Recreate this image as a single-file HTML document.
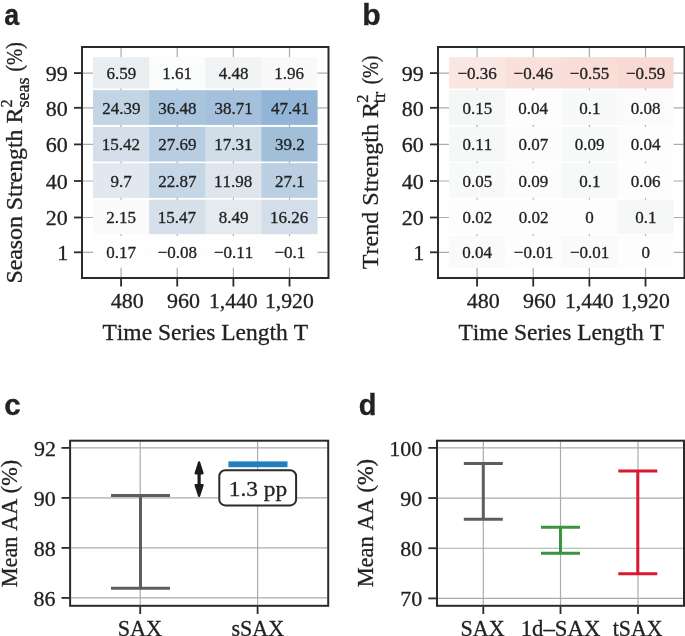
<!DOCTYPE html>
<html><head><meta charset="utf-8"><style>
html,body{margin:0;padding:0;background:#fff;}
svg{display:block;font-kerning:none;will-change:transform;}
text{stroke:#222;stroke-width:0.3px;}
</style></head><body>
<svg width="685" height="636" viewBox="0 0 685 636">
<rect x="0" y="0" width="685" height="636" fill="#fff"/>
<line x1="121.08" y1="48" x2="121.08" y2="277" stroke="#a9acac" stroke-width="1.2" stroke-linecap="butt"/>
<line x1="177.23" y1="48" x2="177.23" y2="277" stroke="#a9acac" stroke-width="1.2" stroke-linecap="butt"/>
<line x1="233.38" y1="48" x2="233.38" y2="277" stroke="#a9acac" stroke-width="1.2" stroke-linecap="butt"/>
<line x1="289.52" y1="48" x2="289.52" y2="277" stroke="#a9acac" stroke-width="1.2" stroke-linecap="butt"/>
<line x1="83" y1="73.1" x2="327.5" y2="73.1" stroke="#a9acac" stroke-width="1.2" stroke-linecap="butt"/>
<line x1="83" y1="107.8" x2="327.5" y2="107.8" stroke="#a9acac" stroke-width="1.2" stroke-linecap="butt"/>
<line x1="83" y1="144.4" x2="327.5" y2="144.4" stroke="#a9acac" stroke-width="1.2" stroke-linecap="butt"/>
<line x1="83" y1="181" x2="327.5" y2="181" stroke="#a9acac" stroke-width="1.2" stroke-linecap="butt"/>
<line x1="83" y1="217.5" x2="327.5" y2="217.5" stroke="#a9acac" stroke-width="1.2" stroke-linecap="butt"/>
<line x1="83" y1="252.3" x2="327.5" y2="252.3" stroke="#a9acac" stroke-width="1.2" stroke-linecap="butt"/>
<rect x="93" y="57.2" width="56.75" height="31.3" fill="#e9eef1"/>
<rect x="149.15" y="57.2" width="56.75" height="31.3" fill="#fbfcfc"/>
<rect x="205.3" y="57.2" width="56.75" height="31.3" fill="#f1f3f5"/>
<rect x="261.45" y="57.2" width="56.15" height="31.3" fill="#f9f9fa"/>
<rect x="93" y="90.2" width="56.75" height="34.7" fill="#c3d4e4"/>
<rect x="149.15" y="90.2" width="56.75" height="34.7" fill="#a9c4dd"/>
<rect x="205.3" y="90.2" width="56.75" height="34.7" fill="#a4c0dc"/>
<rect x="261.45" y="90.2" width="56.15" height="34.7" fill="#92b4d6"/>
<rect x="93" y="126.9" width="56.75" height="34.6" fill="#d5dfe9"/>
<rect x="149.15" y="126.9" width="56.75" height="34.6" fill="#b9cde2"/>
<rect x="205.3" y="126.9" width="56.75" height="34.6" fill="#d1dde8"/>
<rect x="261.45" y="126.9" width="56.15" height="34.6" fill="#a2bfda"/>
<rect x="93" y="163.2" width="56.75" height="34.7" fill="#e2e8ef"/>
<rect x="149.15" y="163.2" width="56.75" height="34.7" fill="#c5d6e6"/>
<rect x="205.3" y="163.2" width="56.75" height="34.7" fill="#dee5ed"/>
<rect x="261.45" y="163.2" width="56.15" height="34.7" fill="#bbcfe3"/>
<rect x="93" y="199.7" width="56.75" height="34.5" fill="#fafafa"/>
<rect x="149.15" y="199.7" width="56.75" height="34.5" fill="#d5e0ea"/>
<rect x="205.3" y="199.7" width="56.75" height="34.5" fill="#e5eaef"/>
<rect x="261.45" y="199.7" width="56.15" height="34.5" fill="#d3deea"/>
<rect x="93" y="236" width="56.75" height="31.7" fill="#fefefe"/>
<rect x="149.15" y="236" width="56.75" height="31.7" fill="#fefefe"/>
<rect x="205.3" y="236" width="56.75" height="31.7" fill="#fefefe"/>
<rect x="261.45" y="236" width="56.15" height="31.7" fill="#fefefe"/>
<text x="106.38" y="79" font-family='"Liberation Serif", serif' font-size="17" font-weight="400" fill="#222222">6.59</text>
<text x="162.31" y="79" font-family='"Liberation Serif", serif' font-size="17" font-weight="400" fill="#222222">1.61</text>
<text x="218.86" y="79" font-family='"Liberation Serif", serif' font-size="17" font-weight="400" fill="#222222">4.48</text>
<text x="274.36" y="79" font-family='"Liberation Serif", serif' font-size="17" font-weight="400" fill="#222222">1.96</text>
<text x="102.13" y="113.7" font-family='"Liberation Serif", serif' font-size="17" font-weight="400" fill="#222222">24.39</text>
<text x="158.22" y="113.7" font-family='"Liberation Serif", serif' font-size="17" font-weight="400" fill="#222222">36.48</text>
<text x="214.55" y="113.7" font-family='"Liberation Serif", serif' font-size="17" font-weight="400" fill="#222222">38.71</text>
<text x="270.94" y="113.7" font-family='"Liberation Serif", serif' font-size="17" font-weight="400" fill="#222222">47.41</text>
<text x="101.87" y="150.3" font-family='"Liberation Serif", serif' font-size="17" font-weight="400" fill="#222222">15.42</text>
<text x="158.28" y="150.3" font-family='"Liberation Serif", serif' font-size="17" font-weight="400" fill="#222222">27.69</text>
<text x="214.21" y="150.3" font-family='"Liberation Serif", serif' font-size="17" font-weight="400" fill="#222222">17.31</text>
<text x="274.91" y="150.3" font-family='"Liberation Serif", serif' font-size="17" font-weight="400" fill="#222222">39.2</text>
<text x="110.62" y="186.9" font-family='"Liberation Serif", serif' font-size="17" font-weight="400" fill="#222222">9.7</text>
<text x="158.17" y="186.9" font-family='"Liberation Serif", serif' font-size="17" font-weight="400" fill="#222222">22.87</text>
<text x="214.03" y="186.9" font-family='"Liberation Serif", serif' font-size="17" font-weight="400" fill="#222222">11.98</text>
<text x="274.99" y="186.9" font-family='"Liberation Serif", serif' font-size="17" font-weight="400" fill="#222222">27.1</text>
<text x="106.36" y="223.4" font-family='"Liberation Serif", serif' font-size="17" font-weight="400" fill="#222222">2.15</text>
<text x="157.8" y="223.4" font-family='"Liberation Serif", serif' font-size="17" font-weight="400" fill="#222222">15.47</text>
<text x="218.72" y="223.4" font-family='"Liberation Serif", serif' font-size="17" font-weight="400" fill="#222222">8.49</text>
<text x="270.11" y="223.4" font-family='"Liberation Serif", serif' font-size="17" font-weight="400" fill="#222222">16.26</text>
<text x="106.32" y="258.2" font-family='"Liberation Serif", serif' font-size="17" font-weight="400" fill="#222222">0.17</text>
<text x="157.66" y="258.2" font-family='"Liberation Serif", serif' font-size="17" font-weight="400" fill="#222222">−0.08</text>
<text x="213.99" y="258.2" font-family='"Liberation Serif", serif' font-size="17" font-weight="400" fill="#222222">−0.11</text>
<text x="274.39" y="258.2" font-family='"Liberation Serif", serif' font-size="17" font-weight="400" fill="#222222">−0.1</text>
<rect x="82" y="47" width="246.5" height="231" fill="none" stroke="#2a2a2a" stroke-width="2"/>
<line x1="74" y1="73.1" x2="81" y2="73.1" stroke="#2a2a2a" stroke-width="1.8" stroke-linecap="butt"/>
<line x1="74" y1="107.8" x2="81" y2="107.8" stroke="#2a2a2a" stroke-width="1.8" stroke-linecap="butt"/>
<line x1="74" y1="144.4" x2="81" y2="144.4" stroke="#2a2a2a" stroke-width="1.8" stroke-linecap="butt"/>
<line x1="74" y1="181" x2="81" y2="181" stroke="#2a2a2a" stroke-width="1.8" stroke-linecap="butt"/>
<line x1="74" y1="217.5" x2="81" y2="217.5" stroke="#2a2a2a" stroke-width="1.8" stroke-linecap="butt"/>
<line x1="74" y1="252.3" x2="81" y2="252.3" stroke="#2a2a2a" stroke-width="1.8" stroke-linecap="butt"/>
<line x1="121.08" y1="279" x2="121.08" y2="286.5" stroke="#2a2a2a" stroke-width="1.8" stroke-linecap="butt"/>
<line x1="177.23" y1="279" x2="177.23" y2="286.5" stroke="#2a2a2a" stroke-width="1.8" stroke-linecap="butt"/>
<line x1="233.38" y1="279" x2="233.38" y2="286.5" stroke="#2a2a2a" stroke-width="1.8" stroke-linecap="butt"/>
<line x1="289.52" y1="279" x2="289.52" y2="286.5" stroke="#2a2a2a" stroke-width="1.8" stroke-linecap="butt"/>
<text x="45.8" y="80.81" font-family='"Liberation Serif", serif' font-size="22" font-weight="400" fill="#222222">99</text>
<text x="45.74" y="115.51" font-family='"Liberation Serif", serif' font-size="22" font-weight="400" fill="#222222">80</text>
<text x="45.74" y="152.11" font-family='"Liberation Serif", serif' font-size="22" font-weight="400" fill="#222222">60</text>
<text x="45.74" y="188.71" font-family='"Liberation Serif", serif' font-size="22" font-weight="400" fill="#222222">40</text>
<text x="45.74" y="225.21" font-family='"Liberation Serif", serif' font-size="22" font-weight="400" fill="#222222">20</text>
<text x="57.22" y="260.01" font-family='"Liberation Serif", serif' font-size="22" font-weight="400" fill="#222222">1</text>
<text x="110.77" y="307.6" font-family='"Liberation Serif", serif' font-size="22" font-weight="400" fill="#222222">480</text>
<text x="166.89" y="307.6" font-family='"Liberation Serif", serif' font-size="22" font-weight="400" fill="#222222">960</text>
<text x="208.89" y="307.6" font-family='"Liberation Serif", serif' font-size="22" font-weight="400" fill="#222222" textLength="48.83" lengthAdjust="spacingAndGlyphs">1,440</text>
<text x="264.99" y="307.6" font-family='"Liberation Serif", serif' font-size="22" font-weight="400" fill="#222222" textLength="48.83" lengthAdjust="spacingAndGlyphs">1,920</text>
<text x="102.47" y="339.5" font-family='"Liberation Serif", serif' font-size="23.5" font-weight="400" fill="#222222">Time Series Length T</text>
<line x1="477.07" y1="48" x2="477.07" y2="277" stroke="#a9acac" stroke-width="1.2" stroke-linecap="butt"/>
<line x1="533.23" y1="48" x2="533.23" y2="277" stroke="#a9acac" stroke-width="1.2" stroke-linecap="butt"/>
<line x1="589.38" y1="48" x2="589.38" y2="277" stroke="#a9acac" stroke-width="1.2" stroke-linecap="butt"/>
<line x1="645.52" y1="48" x2="645.52" y2="277" stroke="#a9acac" stroke-width="1.2" stroke-linecap="butt"/>
<line x1="439" y1="73.1" x2="683.5" y2="73.1" stroke="#a9acac" stroke-width="1.2" stroke-linecap="butt"/>
<line x1="439" y1="107.8" x2="683.5" y2="107.8" stroke="#a9acac" stroke-width="1.2" stroke-linecap="butt"/>
<line x1="439" y1="144.4" x2="683.5" y2="144.4" stroke="#a9acac" stroke-width="1.2" stroke-linecap="butt"/>
<line x1="439" y1="181" x2="683.5" y2="181" stroke="#a9acac" stroke-width="1.2" stroke-linecap="butt"/>
<line x1="439" y1="217.5" x2="683.5" y2="217.5" stroke="#a9acac" stroke-width="1.2" stroke-linecap="butt"/>
<line x1="439" y1="252.3" x2="683.5" y2="252.3" stroke="#a9acac" stroke-width="1.2" stroke-linecap="butt"/>
<rect x="449" y="57.2" width="56.75" height="31.3" fill="#fbe7e2"/>
<rect x="505.15" y="57.2" width="56.75" height="31.3" fill="#f9e0da"/>
<rect x="561.3" y="57.2" width="56.75" height="31.3" fill="#f9ddd7"/>
<rect x="617.45" y="57.2" width="56.15" height="31.3" fill="#f8dad4"/>
<rect x="449" y="90.2" width="56.75" height="34.7" fill="#f4f7f6"/>
<rect x="505.15" y="90.2" width="56.75" height="34.7" fill="#fdfdfd"/>
<rect x="561.3" y="90.2" width="56.75" height="34.7" fill="#f8f9f9"/>
<rect x="617.45" y="90.2" width="56.15" height="34.7" fill="#fbfbfb"/>
<rect x="449" y="126.9" width="56.75" height="34.6" fill="#f6f8f7"/>
<rect x="505.15" y="126.9" width="56.75" height="34.6" fill="#fbfcfb"/>
<rect x="561.3" y="126.9" width="56.75" height="34.6" fill="#f8f9f9"/>
<rect x="617.45" y="126.9" width="56.15" height="34.6" fill="#fdfdfd"/>
<rect x="449" y="163.2" width="56.75" height="34.7" fill="#f8f9f9"/>
<rect x="505.15" y="163.2" width="56.75" height="34.7" fill="#fcfcfc"/>
<rect x="561.3" y="163.2" width="56.75" height="34.7" fill="#f7f8f8"/>
<rect x="617.45" y="163.2" width="56.15" height="34.7" fill="#fdfdfd"/>
<rect x="449" y="199.7" width="56.75" height="34.5" fill="#fdfdfd"/>
<rect x="505.15" y="199.7" width="56.75" height="34.5" fill="#fdfdfd"/>
<rect x="561.3" y="199.7" width="56.75" height="34.5" fill="#fdfdfd"/>
<rect x="617.45" y="199.7" width="56.15" height="34.5" fill="#f6f7f7"/>
<rect x="449" y="236" width="56.75" height="31.7" fill="#fafafa"/>
<rect x="505.15" y="236" width="56.75" height="31.7" fill="#fdfdfd"/>
<rect x="561.3" y="236" width="56.75" height="31.7" fill="#fafafa"/>
<rect x="617.45" y="236" width="56.15" height="31.7" fill="#fdfdfd"/>
<text x="457.44" y="79" font-family='"Liberation Serif", serif' font-size="17" font-weight="400" fill="#222222">−0.36</text>
<text x="513.59" y="79" font-family='"Liberation Serif", serif' font-size="17" font-weight="400" fill="#222222">−0.46</text>
<text x="569.81" y="79" font-family='"Liberation Serif", serif' font-size="17" font-weight="400" fill="#222222">−0.55</text>
<text x="625.98" y="79" font-family='"Liberation Serif", serif' font-size="17" font-weight="400" fill="#222222">−0.59</text>
<text x="462.41" y="113.7" font-family='"Liberation Serif", serif' font-size="17" font-weight="400" fill="#222222">0.15</text>
<text x="518.36" y="113.7" font-family='"Liberation Serif", serif' font-size="17" font-weight="400" fill="#222222">0.04</text>
<text x="579.14" y="113.7" font-family='"Liberation Serif", serif' font-size="17" font-weight="400" fill="#222222">0.1</text>
<text x="630.85" y="113.7" font-family='"Liberation Serif", serif' font-size="17" font-weight="400" fill="#222222">0.08</text>
<text x="462.59" y="150.3" font-family='"Liberation Serif", serif' font-size="17" font-weight="400" fill="#222222">0.11</text>
<text x="518.47" y="150.3" font-family='"Liberation Serif", serif' font-size="17" font-weight="400" fill="#222222">0.07</text>
<text x="574.72" y="150.3" font-family='"Liberation Serif", serif' font-size="17" font-weight="400" fill="#222222">0.09</text>
<text x="630.66" y="150.3" font-family='"Liberation Serif", serif' font-size="17" font-weight="400" fill="#222222">0.04</text>
<text x="462.41" y="186.9" font-family='"Liberation Serif", serif' font-size="17" font-weight="400" fill="#222222">0.05</text>
<text x="518.57" y="186.9" font-family='"Liberation Serif", serif' font-size="17" font-weight="400" fill="#222222">0.09</text>
<text x="579.14" y="186.9" font-family='"Liberation Serif", serif' font-size="17" font-weight="400" fill="#222222">0.1</text>
<text x="630.78" y="186.9" font-family='"Liberation Serif", serif' font-size="17" font-weight="400" fill="#222222">0.06</text>
<text x="462.55" y="223.4" font-family='"Liberation Serif", serif' font-size="17" font-weight="400" fill="#222222">0.02</text>
<text x="518.7" y="223.4" font-family='"Liberation Serif", serif' font-size="17" font-weight="400" fill="#222222">0.02</text>
<text x="585.33" y="223.4" font-family='"Liberation Serif", serif' font-size="17" font-weight="400" fill="#222222">0</text>
<text x="635.29" y="223.4" font-family='"Liberation Serif", serif' font-size="17" font-weight="400" fill="#222222">0.1</text>
<text x="462.21" y="258.2" font-family='"Liberation Serif", serif' font-size="17" font-weight="400" fill="#222222">0.04</text>
<text x="513.84" y="258.2" font-family='"Liberation Serif", serif' font-size="17" font-weight="400" fill="#222222">−0.01</text>
<text x="569.99" y="258.2" font-family='"Liberation Serif", serif' font-size="17" font-weight="400" fill="#222222">−0.01</text>
<text x="641.48" y="258.2" font-family='"Liberation Serif", serif' font-size="17" font-weight="400" fill="#222222">0</text>
<rect x="438" y="47" width="246.5" height="231" fill="none" stroke="#2a2a2a" stroke-width="2"/>
<line x1="430" y1="73.1" x2="437" y2="73.1" stroke="#2a2a2a" stroke-width="1.8" stroke-linecap="butt"/>
<line x1="430" y1="107.8" x2="437" y2="107.8" stroke="#2a2a2a" stroke-width="1.8" stroke-linecap="butt"/>
<line x1="430" y1="144.4" x2="437" y2="144.4" stroke="#2a2a2a" stroke-width="1.8" stroke-linecap="butt"/>
<line x1="430" y1="181" x2="437" y2="181" stroke="#2a2a2a" stroke-width="1.8" stroke-linecap="butt"/>
<line x1="430" y1="217.5" x2="437" y2="217.5" stroke="#2a2a2a" stroke-width="1.8" stroke-linecap="butt"/>
<line x1="430" y1="252.3" x2="437" y2="252.3" stroke="#2a2a2a" stroke-width="1.8" stroke-linecap="butt"/>
<line x1="477.07" y1="279" x2="477.07" y2="286.5" stroke="#2a2a2a" stroke-width="1.8" stroke-linecap="butt"/>
<line x1="533.23" y1="279" x2="533.23" y2="286.5" stroke="#2a2a2a" stroke-width="1.8" stroke-linecap="butt"/>
<line x1="589.38" y1="279" x2="589.38" y2="286.5" stroke="#2a2a2a" stroke-width="1.8" stroke-linecap="butt"/>
<line x1="645.52" y1="279" x2="645.52" y2="286.5" stroke="#2a2a2a" stroke-width="1.8" stroke-linecap="butt"/>
<text x="401.8" y="80.81" font-family='"Liberation Serif", serif' font-size="22" font-weight="400" fill="#222222">99</text>
<text x="401.74" y="115.51" font-family='"Liberation Serif", serif' font-size="22" font-weight="400" fill="#222222">80</text>
<text x="401.74" y="152.11" font-family='"Liberation Serif", serif' font-size="22" font-weight="400" fill="#222222">60</text>
<text x="401.74" y="188.71" font-family='"Liberation Serif", serif' font-size="22" font-weight="400" fill="#222222">40</text>
<text x="401.74" y="225.21" font-family='"Liberation Serif", serif' font-size="22" font-weight="400" fill="#222222">20</text>
<text x="413.22" y="260.01" font-family='"Liberation Serif", serif' font-size="22" font-weight="400" fill="#222222">1</text>
<text x="466.77" y="307.6" font-family='"Liberation Serif", serif' font-size="22" font-weight="400" fill="#222222">480</text>
<text x="522.89" y="307.6" font-family='"Liberation Serif", serif' font-size="22" font-weight="400" fill="#222222">960</text>
<text x="564.89" y="307.6" font-family='"Liberation Serif", serif' font-size="22" font-weight="400" fill="#222222" textLength="48.83" lengthAdjust="spacingAndGlyphs">1,440</text>
<text x="620.99" y="307.6" font-family='"Liberation Serif", serif' font-size="22" font-weight="400" fill="#222222" textLength="48.83" lengthAdjust="spacingAndGlyphs">1,920</text>
<text x="458.47" y="339.5" font-family='"Liberation Serif", serif' font-size="23.5" font-weight="400" fill="#222222">Time Series Length T</text>
<text transform="translate(21.9,283.59) rotate(-90)" font-family='"Liberation Serif", serif' font-size="23.5" fill="#222222" textLength="175.93" lengthAdjust="spacingAndGlyphs">Season Strength R</text>
<text transform="translate(12,107.53) rotate(-90)" font-family='"Liberation Serif", serif' font-size="16.5" fill="#222222">2</text>
<text transform="translate(28.7,107.54) rotate(-90)" font-family='"Liberation Serif", serif' font-size="18" fill="#222222" textLength="30.09" lengthAdjust="spacingAndGlyphs">seas</text>
<text transform="translate(21.9,71.56) rotate(-90)" font-family='"Liberation Serif", serif' font-size="23.5" fill="#222222" textLength="29.21" lengthAdjust="spacingAndGlyphs">(%)</text>
<text transform="translate(377.9,269.13) rotate(-90)" font-family='"Liberation Serif", serif' font-size="23.5" fill="#222222" textLength="167.17" lengthAdjust="spacingAndGlyphs">Trend Strength R</text>
<text transform="translate(368.2,102.73) rotate(-90)" font-family='"Liberation Serif", serif' font-size="16.5" fill="#222222">2</text>
<text transform="translate(384.5,103.18) rotate(-90)" font-family='"Liberation Serif", serif' font-size="18" fill="#222222" textLength="11.34" lengthAdjust="spacingAndGlyphs">tr</text>
<text transform="translate(377.9,84.34) rotate(-90)" font-family='"Liberation Serif", serif' font-size="23.5" fill="#222222" textLength="28.79" lengthAdjust="spacingAndGlyphs">(%)</text>
<line x1="71.1" y1="447.9" x2="327.2" y2="447.9" stroke="#a9acac" stroke-width="1.2" stroke-linecap="butt"/>
<line x1="71.1" y1="497.9" x2="327.2" y2="497.9" stroke="#a9acac" stroke-width="1.2" stroke-linecap="butt"/>
<line x1="71.1" y1="547.9" x2="327.2" y2="547.9" stroke="#a9acac" stroke-width="1.2" stroke-linecap="butt"/>
<line x1="71.1" y1="597.9" x2="327.2" y2="597.9" stroke="#a9acac" stroke-width="1.2" stroke-linecap="butt"/>
<line x1="140.2" y1="441.7" x2="140.2" y2="604.8" stroke="#a9acac" stroke-width="1.2" stroke-linecap="butt"/>
<line x1="257.6" y1="441.7" x2="257.6" y2="604.8" stroke="#a9acac" stroke-width="1.2" stroke-linecap="butt"/>
<line x1="61.5" y1="447.9" x2="69.2" y2="447.9" stroke="#2a2a2a" stroke-width="1.8" stroke-linecap="butt"/>
<text x="34.11" y="455.61" font-family='"Liberation Serif", serif' font-size="22" font-weight="400" fill="#222222">92</text>
<line x1="61.5" y1="497.9" x2="69.2" y2="497.9" stroke="#2a2a2a" stroke-width="1.8" stroke-linecap="butt"/>
<text x="33.74" y="505.61" font-family='"Liberation Serif", serif' font-size="22" font-weight="400" fill="#222222">90</text>
<line x1="61.5" y1="547.9" x2="69.2" y2="547.9" stroke="#2a2a2a" stroke-width="1.8" stroke-linecap="butt"/>
<text x="33.74" y="555.61" font-family='"Liberation Serif", serif' font-size="22" font-weight="400" fill="#222222">88</text>
<line x1="61.5" y1="597.9" x2="69.2" y2="597.9" stroke="#2a2a2a" stroke-width="1.8" stroke-linecap="butt"/>
<text x="33.56" y="605.61" font-family='"Liberation Serif", serif' font-size="22" font-weight="400" fill="#222222">86</text>
<line x1="140.2" y1="606.8" x2="140.2" y2="614" stroke="#2a2a2a" stroke-width="1.8" stroke-linecap="butt"/>
<line x1="257.6" y1="606.8" x2="257.6" y2="614" stroke="#2a2a2a" stroke-width="1.8" stroke-linecap="butt"/>
<text x="117.72" y="635.8" font-family='"Liberation Serif", serif' font-size="23.5" font-weight="400" fill="#222222" textLength="44.39" lengthAdjust="spacingAndGlyphs">SAX</text>
<text x="231.4" y="635.8" font-family='"Liberation Serif", serif' font-size="23.5" font-weight="400" fill="#222222" textLength="52.7" lengthAdjust="spacingAndGlyphs">sSAX</text>
<line x1="140.5" y1="495.5" x2="140.5" y2="588.3" stroke="#5d5d5d" stroke-width="3" stroke-linecap="butt"/>
<line x1="111" y1="495.5" x2="170" y2="495.5" stroke="#5d5d5d" stroke-width="3" stroke-linecap="butt"/>
<line x1="111" y1="588.3" x2="170" y2="588.3" stroke="#5d5d5d" stroke-width="3" stroke-linecap="butt"/>
<rect x="228.4" y="461.4" width="59.1" height="5.8" fill="#1f7fc0"/>
<rect x="219.3" y="470.3" width="76.8" height="35.1" rx="6" ry="6" fill="#fff" stroke="#2a2a2a" stroke-width="2"/>
<text x="228.85" y="495.9" font-family='"Liberation Serif", serif' font-size="22" font-weight="400" fill="#222222" textLength="58.36" lengthAdjust="spacingAndGlyphs">1.3 pp</text>
<line x1="199.1" y1="473" x2="199.1" y2="486" stroke="#1e1b1c" stroke-width="3.2"/>
<path d="M199.1 462.3 L202.6 473.3 L195.6 473.3 Z" fill="#1e1b1c" stroke="#1e1b1c" stroke-width="2.2" stroke-linejoin="round"/>
<path d="M199.1 495.9 L202.6 485.1 L195.6 485.1 Z" fill="#1e1b1c" stroke="#1e1b1c" stroke-width="2.2" stroke-linejoin="round"/>
<rect x="70.1" y="440.7" width="258.1" height="165.1" fill="none" stroke="#2a2a2a" stroke-width="2"/>
<text transform="translate(17,587.34) rotate(-90)" font-family='"Liberation Serif", serif' font-size="23" fill="#222222" textLength="127.62" lengthAdjust="spacingAndGlyphs">Mean AA (%)</text>
<line x1="438" y1="447.9" x2="683" y2="447.9" stroke="#a9acac" stroke-width="1.2" stroke-linecap="butt"/>
<line x1="438" y1="498.07" x2="683" y2="498.07" stroke="#a9acac" stroke-width="1.2" stroke-linecap="butt"/>
<line x1="438" y1="548.24" x2="683" y2="548.24" stroke="#a9acac" stroke-width="1.2" stroke-linecap="butt"/>
<line x1="438" y1="598.41" x2="683" y2="598.41" stroke="#a9acac" stroke-width="1.2" stroke-linecap="butt"/>
<line x1="483.3" y1="441.7" x2="483.3" y2="604.8" stroke="#a9acac" stroke-width="1.2" stroke-linecap="butt"/>
<line x1="560.5" y1="441.7" x2="560.5" y2="604.8" stroke="#a9acac" stroke-width="1.2" stroke-linecap="butt"/>
<line x1="638" y1="441.7" x2="638" y2="604.8" stroke="#a9acac" stroke-width="1.2" stroke-linecap="butt"/>
<line x1="428.3" y1="447.9" x2="436" y2="447.9" stroke="#2a2a2a" stroke-width="1.8" stroke-linecap="butt"/>
<text x="389.34" y="455.61" font-family='"Liberation Serif", serif' font-size="22" font-weight="400" fill="#222222">100</text>
<line x1="428.3" y1="498.07" x2="436" y2="498.07" stroke="#2a2a2a" stroke-width="1.8" stroke-linecap="butt"/>
<text x="400.34" y="505.78" font-family='"Liberation Serif", serif' font-size="22" font-weight="400" fill="#222222">90</text>
<line x1="428.3" y1="548.24" x2="436" y2="548.24" stroke="#2a2a2a" stroke-width="1.8" stroke-linecap="butt"/>
<text x="400.34" y="555.95" font-family='"Liberation Serif", serif' font-size="22" font-weight="400" fill="#222222">80</text>
<line x1="428.3" y1="598.41" x2="436" y2="598.41" stroke="#2a2a2a" stroke-width="1.8" stroke-linecap="butt"/>
<text x="400.34" y="606.12" font-family='"Liberation Serif", serif' font-size="22" font-weight="400" fill="#222222">70</text>
<line x1="483.3" y1="606.8" x2="483.3" y2="614" stroke="#2a2a2a" stroke-width="1.8" stroke-linecap="butt"/>
<line x1="560.5" y1="606.8" x2="560.5" y2="614" stroke="#2a2a2a" stroke-width="1.8" stroke-linecap="butt"/>
<line x1="638" y1="606.8" x2="638" y2="614" stroke="#2a2a2a" stroke-width="1.8" stroke-linecap="butt"/>
<text x="460.53" y="635.8" font-family='"Liberation Serif", serif' font-size="23.5" font-weight="400" fill="#222222" textLength="44.07" lengthAdjust="spacingAndGlyphs">SAX</text>
<text x="520.7" y="635.8" font-family='"Liberation Serif", serif' font-size="23.5" font-weight="400" fill="#222222" textLength="79.71" lengthAdjust="spacingAndGlyphs">1d–SAX</text>
<text x="612.79" y="635.8" font-family='"Liberation Serif", serif' font-size="23.5" font-weight="400" fill="#222222" textLength="49.61" lengthAdjust="spacingAndGlyphs">tSAX</text>
<line x1="483.3" y1="463.6" x2="483.3" y2="519.3" stroke="#5d5d5d" stroke-width="3" stroke-linecap="butt"/>
<line x1="463.8" y1="463.6" x2="502.8" y2="463.6" stroke="#5d5d5d" stroke-width="3" stroke-linecap="butt"/>
<line x1="463.8" y1="519.3" x2="502.8" y2="519.3" stroke="#5d5d5d" stroke-width="3" stroke-linecap="butt"/>
<line x1="560.5" y1="527.3" x2="560.5" y2="553.3" stroke="#3a9440" stroke-width="3" stroke-linecap="butt"/>
<line x1="541" y1="527.3" x2="580" y2="527.3" stroke="#3a9440" stroke-width="3" stroke-linecap="butt"/>
<line x1="541" y1="553.3" x2="580" y2="553.3" stroke="#3a9440" stroke-width="3" stroke-linecap="butt"/>
<line x1="637.8" y1="471.1" x2="637.8" y2="573.8" stroke="#db162f" stroke-width="3" stroke-linecap="butt"/>
<line x1="618.3" y1="471.1" x2="657.3" y2="471.1" stroke="#db162f" stroke-width="3" stroke-linecap="butt"/>
<line x1="618.3" y1="573.8" x2="657.3" y2="573.8" stroke="#db162f" stroke-width="3" stroke-linecap="butt"/>
<rect x="437.0" y="440.7" width="247" height="165.1" fill="none" stroke="#2a2a2a" stroke-width="2"/>
<text transform="translate(373,587.35) rotate(-90)" font-family='"Liberation Serif", serif' font-size="23" fill="#222222" textLength="128.43" lengthAdjust="spacingAndGlyphs">Mean AA (%)</text>
<text x="4.21" y="24.8" font-family='"Liberation Sans", sans-serif' font-size="29" font-weight="700" fill="#222222" textLength="14.92" lengthAdjust="spacingAndGlyphs">a</text>
<text x="362.21" y="24.8" font-family='"Liberation Sans", sans-serif' font-size="29" font-weight="700" fill="#222222" textLength="18.43" lengthAdjust="spacingAndGlyphs">b</text>
<text x="4.35" y="415.2" font-family='"Liberation Sans", sans-serif' font-size="29" font-weight="700" fill="#222222" textLength="16.42" lengthAdjust="spacingAndGlyphs">c</text>
<text x="358.66" y="414.9" font-family='"Liberation Sans", sans-serif' font-size="29" font-weight="700" fill="#222222">d</text>
</svg>
</body></html>
